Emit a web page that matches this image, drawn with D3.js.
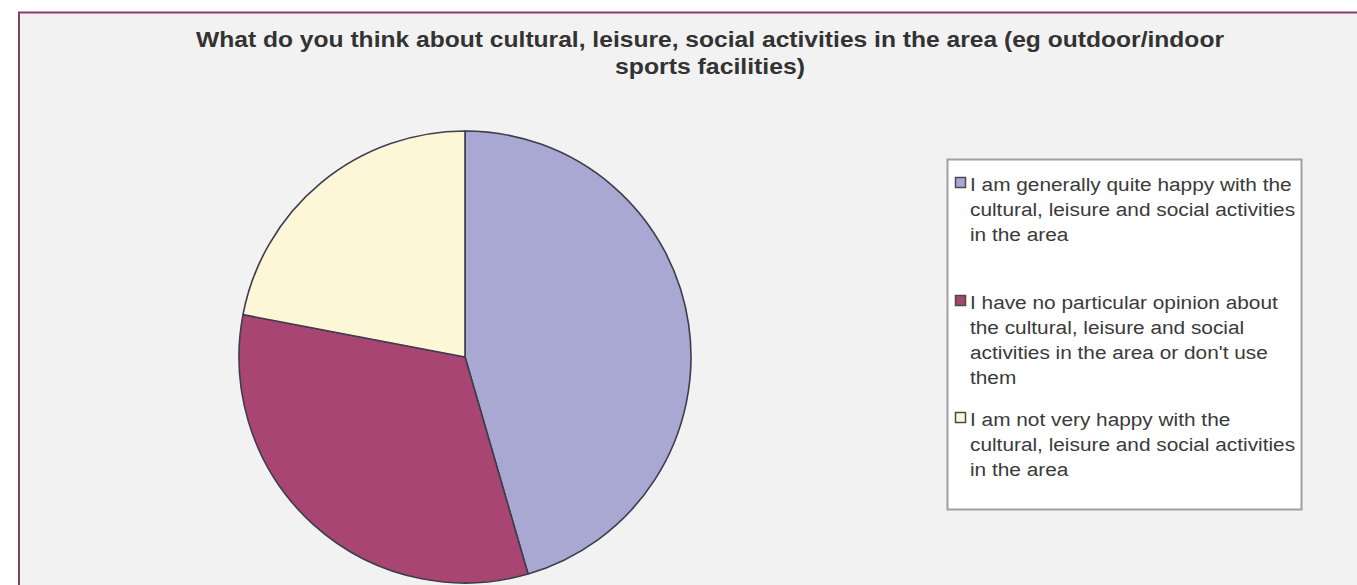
<!DOCTYPE html>
<html>
<head>
<meta charset="utf-8">
<script src="https://cdn.jsdelivr.net/npm/d3@7"></script>
<style>
  html, body { margin: 0; padding: 0; background: #ffffff; }
  svg { display: block; }
</style>
</head>
<body>
<svg id="chart" width="1357" height="585"></svg>
<script>
// ---- data ----
const titleLines = [
  "What do you think about cultural, leisure, social activities in the area (eg outdoor/indoor",
  "sports facilities)"
];
const categories = [
  "I am generally quite happy with the cultural, leisure and social activities in the area",
  "I have no particular opinion about the cultural, leisure and social activities in the area or don't use them",
  "I am not very happy with the cultural, leisure and social activities in the area"
];
const legendLines = [
  ["I am generally quite happy with the", "cultural, leisure and social activities", "in the area"],
  ["I have no particular opinion about", "the cultural, leisure and social", "activities in the area or don't use", "them"],
  ["I am not very happy with the", "cultural, leisure and social activities", "in the area"]
];
const values = [45.5, 32.5, 22.0];
const colors = ["#a9a8d3", "#a94573", "#fdf7d8"];

// ---- layout ----
const svg = d3.select("#chart");
const W = 1357, H = 585;

// panel background + frame
svg.append("rect").attr("x", 19).attr("y", 13).attr("width", W).attr("height", H)
  .attr("fill", "#f2f2f2");
svg.append("line").attr("x1", 18).attr("x2", W).attr("y1", 12.5).attr("y2", 12.5)
  .attr("stroke", "#8b3d66").attr("stroke-width", 2);
svg.append("line").attr("x1", 19).attr("x2", 19).attr("y1", 12).attr("y2", H)
  .attr("stroke", "#8b3d66").attr("stroke-width", 2);

// title
const titleWidths = [1028, 190];
const titleBase = [47, 74];
titleLines.forEach((t, i) => {
  svg.append("text")
    .attr("x", 710).attr("y", titleBase[i])
    .attr("text-anchor", "middle")
    .attr("font-family", "Liberation Sans, Arial, sans-serif")
    .attr("font-weight", "bold")
    .attr("font-size", 22)
    .attr("fill", "#333333")
    .attr("textLength", titleWidths[i])
    .attr("lengthAdjust", "spacingAndGlyphs")
    .text(t);
});

// pie
const cx = 465, cy = 357, R = 226;
const pie = d3.pie().sort(null).value(d => d);
const arc = d3.arc().innerRadius(0).outerRadius(R);
svg.append("g").attr("transform", `translate(${cx},${cy})`)
  .selectAll("path").data(pie(values)).join("path")
  .attr("d", arc)
  .attr("fill", (d, i) => colors[i])
  .attr("stroke", "#3d3d4d")
  .attr("stroke-width", 1.6)
  .attr("stroke-linejoin", "round");

// legend
svg.append("rect").attr("x", 947.5).attr("y", 159.5).attr("width", 354).attr("height", 350)
  .attr("fill", "#ffffff").attr("stroke", "#a0a0a0").attr("stroke-width", 2);

const entryBase = [191, 309, 426];
const lineH = 25;
const lg = svg.append("g");
legendLines.forEach((lines, i) => {
  lg.append("rect")
    .attr("x", 955.5).attr("y", entryBase[i] - 13.5)
    .attr("width", 10).attr("height", 10)
    .attr("fill", colors[i])
    .attr("stroke", "#4a4a4a").attr("stroke-width", 1.5);
  const tg = lg.append("g").attr("transform", `translate(970,0) scale(1.17,1)`);
  lines.forEach((t, j) => {
    tg.append("text")
      .attr("x", 0).attr("y", entryBase[i] + j * lineH)
      .attr("font-family", "Liberation Sans, Arial, sans-serif")
      .attr("font-size", 17.8)
      .attr("fill", "#3a3a3a")
      .text(t);
  });
});
</script>
</body>
</html>
